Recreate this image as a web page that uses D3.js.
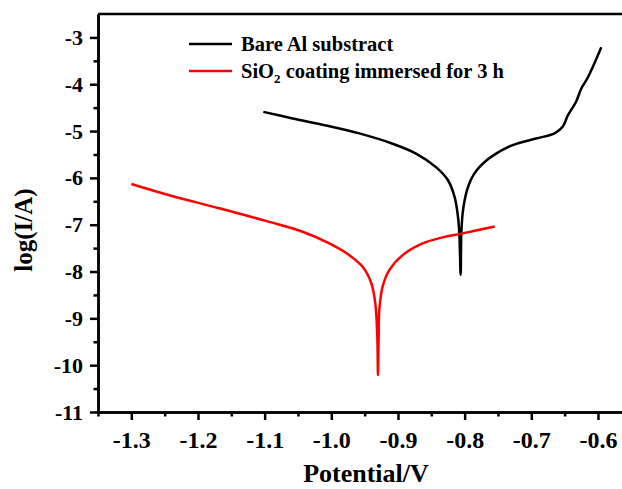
<!DOCTYPE html>
<html>
<head>
<meta charset="utf-8">
<script src="https://d3js.org/d3.v7.min.js"></script>
<style>
  html, body { margin: 0; padding: 0; background: #fff; }
  svg text { font-family: "Liberation Serif", "Times New Roman", serif; font-weight: bold; fill: #000; }
  .axis path, .axis line { stroke: #000; stroke-width: 2.5; }
  .x.axis text { font-size: 24px; }
  .y.axis text { font-size: 22px; }
</style>
</head>
<body>
<div id="chart"></div>
<script>
// Bare Al substract (potential V, log I)
var bareX = [-1.102, -1.058, -1.008, -0.958, -0.908, -0.873, -0.843, -0.825, -0.815, -0.810, -0.808, -0.806,
             -0.805, -0.803, -0.800, -0.796, -0.790, -0.781, -0.770, -0.758, -0.728, -0.693, -0.665, -0.653,
             -0.645, -0.633, -0.625, -0.615, -0.595];
var bareY = [-4.59, -4.73, -4.88, -5.05, -5.27, -5.48, -5.77, -6.05, -6.41, -6.83, -7.18, -8.07,
             -7.20, -6.76, -6.48, -6.24, -6.02, -5.82, -5.66, -5.53, -5.30, -5.16, -5.05, -4.91,
             -4.66, -4.38, -4.09, -3.85, -3.21];

// SiO2 coating immersed for 3 h
var sioX = [-1.300, -1.243, -1.168, -1.093, -1.043, -1.003, -0.973, -0.953, -0.940, -0.934, -0.931, -0.930,
            -0.929, -0.928, -0.923, -0.913, -0.893, -0.863, -0.833, -0.805, -0.755];
var sioY = [-6.13, -6.37, -6.65, -6.94, -7.15, -7.40, -7.65, -7.90, -8.25, -8.68, -9.40, -10.21,
            -9.40, -8.82, -8.32, -7.97, -7.65, -7.40, -7.27, -7.19, -7.04];

var xTicks = [-1.3, -1.2, -1.1, -1.0, -0.9, -0.8, -0.7, -0.6];
var xMinor = [-1.35, -1.25, -1.15, -1.05, -0.95, -0.85, -0.75, -0.65, -0.55];
var yTicks = [-11, -10, -9, -8, -7, -6, -5, -4, -3];
var yMinor = [-10.5, -9.5, -8.5, -7.5, -6.5, -5.5, -4.5, -3.5];

var width = 622, height = 489;
var margin = {left: 98, top: 14, bottom: 77};

var x = d3.scaleLinear().domain([-1.35, -0.55]).range([margin.left, margin.left + 533.3]);
var y = d3.scaleLinear().domain([-11, -2.5]).range([height - margin.bottom, margin.top]);

var svg = d3.select("#chart").append("svg")
    .attr("width", width)
    .attr("height", height);

// minor ticks
svg.append("g")
    .attr("class", "x axis")
    .attr("transform", "translate(0," + y(-11) + ")")
    .call(d3.axisBottom(x).tickValues(xMinor).tickSize(4.5).tickSizeOuter(0).tickFormat(""));
svg.append("g")
    .attr("class", "y axis")
    .attr("transform", "translate(" + x(-1.35) + ",0)")
    .call(d3.axisLeft(y).tickValues(yMinor).tickSize(4.5).tickSizeOuter(0).tickFormat(""));

// major ticks
svg.append("g")
    .attr("class", "x axis")
    .attr("transform", "translate(0," + y(-11) + ")")
    .call(d3.axisBottom(x).tickValues(xTicks).tickSize(8).tickSizeOuter(0).tickPadding(11)
        .tickFormat(function(d) { return d3.format(".1f")(d).replace("−", "-"); }));
svg.append("g")
    .attr("class", "y axis")
    .attr("transform", "translate(" + x(-1.35) + ",0)")
    .call(d3.axisLeft(y).tickValues(yTicks).tickSize(8).tickSizeOuter(0).tickPadding(7)
        .tickFormat(function(d) { return String(d); }));

// top frame
svg.append("line")
    .attr("x1", x(-1.35)).attr("x2", x(-0.55))
    .attr("y1", y(-2.5)).attr("y2", y(-2.5))
    .attr("stroke", "#000").attr("stroke-width", 2.5);

var line = d3.line()
    .x(function(d) { return x(d[0]); })
    .y(function(d) { return y(d[1]); })
    .curve(d3.curveCatmullRom.alpha(0.5));

svg.append("path")
    .datum(d3.zip(bareX, bareY))
    .attr("fill", "none")
    .attr("stroke", "#000")
    .attr("stroke-width", 2.5)
    .attr("d", line);

svg.append("path")
    .datum(d3.zip(sioX, sioY))
    .attr("fill", "none")
    .attr("stroke", "#ff0000")
    .attr("stroke-width", 2.5)
    .attr("d", line);

// legend
var legend = svg.append("g");
legend.append("line").attr("x1", 189).attr("x2", 232).attr("y1", 44).attr("y2", 44)
    .attr("stroke", "#000").attr("stroke-width", 2.5);
legend.append("text").attr("x", 241).attr("y", 51).style("font-size", "20.5px").text("Bare Al substract");
legend.append("line").attr("x1", 189).attr("x2", 232).attr("y1", 71).attr("y2", 71)
    .attr("stroke", "#ff0000").attr("stroke-width", 2.5);
var t2 = legend.append("text").attr("x", 241).attr("y", 78).style("font-size", "20.5px");
t2.append("tspan").text("SiO");
t2.append("tspan").attr("dy", 5).style("font-size", "13px").text("2");
t2.append("tspan").attr("dy", -5).text(" coating immersed for 3 h");

// axis titles
svg.append("text")
    .attr("x", 366).attr("y", 482)
    .attr("text-anchor", "middle")
    .style("font-size", "26px")
    .text("Potential/V");

svg.append("text")
    .attr("transform", "translate(32,230) rotate(-90)")
    .attr("text-anchor", "middle")
    .style("font-size", "25px")
    .text("log(I/A)");
</script>
</body>
</html>
